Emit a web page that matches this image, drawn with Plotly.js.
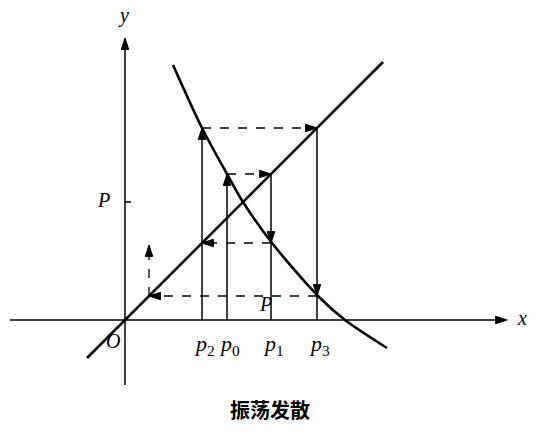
<!DOCTYPE html>
<html>
<head>
<meta charset="utf-8">
<script src="https://cdn.plot.ly/plotly-3.0.1.min.js"></script>
<style>html,body{margin:0;padding:0;background:#fff;}#chart{width:539px;height:434px;}</style>
</head>
<body>
<div id="chart"></div>
<script>
// ---- data (coordinates relative to origin O) ----
const supplyX = [-38, 258];
const supplyY = [-38, 258];
const demandX = [48, 77, 102, 118, 147, 193, 220, 262];
const demandY = [255, 192, 146, 118, 77, 24, 0, -28];
const cobweb = [102, 146, 77, 192, 24];      // p0, p1, p2, p3, p4
const divergeArrowEnd = 75;
const equilibrium = 118;
const xAxisSpan = [-115, 382];
const yAxisSpan = [-65, 282];
const priceLabels = ['<i>p</i><sub>0</sub>', '<i>p</i><sub>1</sub>', '<i>p</i><sub>2</sub>', '<i>p</i><sub>3</sub>'];
const chartTitle = '振荡发散';

const ink = '#000';
const serif = 'Liberation Serif, DejaVu Serif, serif';
const traces = [];
const annotations = [];

// polyline; arrowAt = index of point that carries an arrowhead (or -1)
function line(xs, ys, w, dash, arrowAt) {
  const t = {x: xs, y: ys, type: 'scatter', hoverinfo: 'skip',
    mode: 'lines', line: {color: ink, width: w, dash: dash || 'solid'}};
  if (arrowAt !== undefined && arrowAt >= 0) {
    t.mode = 'lines+markers';
    t.marker = {symbol: xs.map((_, i) => i === arrowAt ? 'arrow' : 'circle'),
      size: xs.map((_, i) => i === arrowAt ? 12 : 0),
      angleref: 'previous', color: ink, opacity: 1,
      line: {width: 1, color: ink}};
  }
  traces.push(t);
}

// axes
line(xAxisSpan, [0, 0], 1.5, 'solid', 1);
line([0, 0], yAxisSpan, 1.5, 'solid', 1);
line([0, 6], [equilibrium, equilibrium], 1.5);

// supply & demand
line(supplyX, supplyY, 2.6);
traces.push({x: demandX, y: demandY, mode: 'lines', type: 'scatter', hoverinfo: 'skip',
  line: {color: ink, width: 2.6, shape: 'spline', smoothing: 0.8}});

// cobweb
for (let t = 0; t < 4; t++) {
  const p = cobweb[t], q = cobweb[t + 1];
  if (q > p) line([p, p], [0, q], 1.5, 'solid', 1);
  else line([p, p, p], [p, q, 0], 1.5, 'solid', 1);
  line([p, q], [q, q], 1.3, 'dash', 1);
}
const last = cobweb[cobweb.length - 1];
line([last, last], [last, divergeArrowEnd], 1.3, 'dash', 1);

// text labels
function label(x, y, text, size) {
  annotations.push({x: x, y: y, xref: 'x', yref: 'y', text: text, showarrow: false,
    font: {family: serif, size: size || 20, color: ink}});
}
label(-2, 305, '<i>y</i>');
label(397, 2, '<i>x</i>');
label(-12, -21, '<i>O</i>');
label(-22, 120, '<i>P</i>');
label(140, 16, '<i>P</i>');
cobweb.slice(0, 4).forEach((x, i) => label(x + 2, -25, priceLabels[i], 22));

const layout = {
  width: 539, height: 434,
  margin: {l: 0, r: 0, t: 0, b: 0},
  paper_bgcolor: '#fff', plot_bgcolor: '#fff',
  showlegend: false,
  xaxis: {range: [-125, 414], visible: false, fixedrange: true},
  yaxis: {range: [-114, 320], visible: false, fixedrange: true},
  annotations: annotations.concat([{
    xref: 'paper', yref: 'paper', x: 0.5, y: (434 - 409) / 434, yanchor: 'middle',
    text: '<b>' + chartTitle + '</b>',
    showarrow: false, font: {family: 'Noto Sans CJK SC', size: 20, color: ink}
  }])
};
Plotly.newPlot('chart', traces, layout, {displayModeBar: false, staticPlot: true});
</script>
</body>
</html>
